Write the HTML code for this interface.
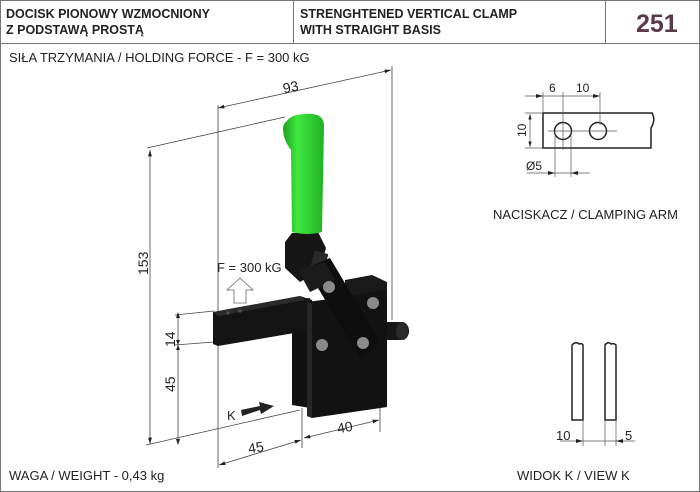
<!DOCTYPE html>
<html><head><meta charset="utf-8"><style>
html,body{margin:0;padding:0;background:#fff}
svg{display:block}
text{font-family:"Liberation Sans",Arial,sans-serif}
</style></head><body>
<svg width="700" height="492" viewBox="0 0 700 492" xmlns="http://www.w3.org/2000/svg">
<defs>
<linearGradient id="gr" x1="0" x2="1" y1="0" y2="0"><stop offset="0" stop-color="#1fa01f"/><stop offset="0.35" stop-color="#3fe83f"/><stop offset="1" stop-color="#22b022"/></linearGradient>
<marker id="a" viewBox="0 0 10 6" refX="10" refY="3" markerWidth="8" markerHeight="5" orient="auto-start-reverse"><path d="M0,0L10,3L0,6z" fill="#222"/></marker>
</defs>
<rect x="0.5" y="0.5" width="699" height="491" fill="#fff" stroke="#777"/>
<line x1="0" y1="43.5" x2="700" y2="43.5" stroke="#777"/>
<line x1="293.5" y1="0" x2="293.5" y2="43" stroke="#777"/>
<line x1="605.5" y1="0" x2="605.5" y2="43" stroke="#777"/>
<g font-weight="bold" font-size="12.5" fill="#222">
<text x="6" y="18">DOCISK PIONOWY WZMOCNIONY</text>
<text x="6" y="34">Z PODSTAWĄ PROSTĄ</text>
<text x="300" y="18">STRENGHTENED VERTICAL CLAMP</text>
<text x="300" y="34">WITH STRAIGHT BASIS</text>
</g>
<text x="636" y="32" font-size="25" font-weight="bold" fill="#5a3a48">251</text>
<g font-size="13" fill="#222">
<text x="9" y="62">SIŁA TRZYMANIA / HOLDING FORCE - F = 300 kG</text>
<text x="9" y="480">WAGA / WEIGHT - 0,43 kg</text>
<text x="517" y="480">WIDOK K / VIEW K</text>
<text x="493" y="219">NACISKACZ / CLAMPING ARM</text>
</g>
<g stroke="#444" stroke-width="0.8" fill="none">
<line x1="218" y1="105" x2="218" y2="468"/>
<line x1="392" y1="66" x2="392" y2="320"/>
<line x1="218" y1="108" x2="391" y2="70" marker-start="url(#a)" marker-end="url(#a)"/>
<line x1="147" y1="148" x2="285" y2="117"/>
<line x1="150" y1="150" x2="150" y2="444" marker-start="url(#a)" marker-end="url(#a)"/>
<line x1="146" y1="445" x2="300" y2="410"/>
<line x1="178" y1="313" x2="178" y2="444" />
<line x1="175" y1="315" x2="214" y2="311"/>
<line x1="175" y1="345" x2="214" y2="342"/>
<line x1="302" y1="408" x2="302" y2="448"/>
<line x1="380" y1="405" x2="380" y2="432"/>
<line x1="219" y1="465" x2="301" y2="440" marker-start="url(#a)" marker-end="url(#a)"/>
<line x1="304" y1="438" x2="379" y2="420" marker-start="url(#a)" marker-end="url(#a)"/>
</g>
<g fill="#222">
<path d="M176,318l2,-6l2,6z M176,340l2,5l2,-5z M176,350l2,-5l2,5z M176,439l2,6l2,-6z"/>
</g>
<g font-size="14" fill="#222">
<text x="283" y="92" transform="rotate(-12 290 88)">93</text>
<text x="0" y="0" transform="translate(148,275) rotate(-90)">153</text>
<text x="0" y="0" transform="translate(175,347) rotate(-90)">14</text>
<text x="0" y="0" transform="translate(175,392) rotate(-90)">45</text>
<text x="248" y="452" transform="rotate(-10 258 447)">45</text>
<text x="337" y="432" transform="rotate(-10 345 427)">40</text>
<text x="217" y="272" font-size="13">F = 300 kG</text>
<text x="227" y="420" font-size="13">K</text>
</g>
<path d="M234,303L234,290L227,290L240,278L253,290L246,290L246,303z" fill="#fff" stroke="#666" stroke-width="0.8"/>
<path d="M241,410L260,406L259,402L274,406L261,414L260,410L242,416z" fill="#222"/>
<g>
<path d="M380,322L402,322A7,9 0 0 1 402,340L380,340z" fill="#161616"/>
<ellipse cx="402" cy="331" rx="6" ry="9" fill="#2a2a2a"/>
<path d="M292,300L310,298L310,408L292,405z" fill="#111"/>
<path d="M213,312L300,296L312,300L312,330L218,346L213,344z" fill="#141414"/>
<path d="M213,312L300,296L305,300L218,316z" fill="#2b2b2b"/>
<circle cx="228" cy="313" r="1.6" fill="#555"/><circle cx="240" cy="311" r="1.6" fill="#555"/>
<path d="M345,280L372,275L387,282L387,330L345,330z" fill="#1a1a1a"/>
<path d="M307,302L345,297L387,290L387,407L312,418L307,416z" fill="#121212"/>
<path d="M307,302L312,304L312,418L307,416z" fill="#262626"/>
<path d="M285,242L292,233L318,232L326,248L320,270L300,282L285,268z" fill="#161616"/>
<rect x="312" y="252" width="14" height="20" fill="#2a2a2a" transform="rotate(15 319 262)"/>
<path d="M306,268L330,258L380,342L360,358z" fill="#0e0e0e"/>
<path d="M298,270L325,262L335,280L310,292z" fill="#1b1b1b"/>
<path d="M287,121Q292,113 312,114Q324,115 324,126L322,232Q308,236 292,232L291,150Q283,140 283,128Q283,124 287,121z" fill="url(#gr)"/>
<g fill="#8a8a8a"><circle cx="329" cy="287" r="6"/><circle cx="373" cy="303" r="6"/><circle cx="322" cy="345" r="6"/><circle cx="363" cy="343" r="6"/></g>
</g>
<g stroke="#222" fill="none">
<path d="M543,113L652,113Q656,120 651,128L651,148L543,148z" stroke-width="1.5"/>
<circle cx="563" cy="131" r="8.5" stroke-width="1.5"/>
<circle cx="598" cy="131" r="8.5" stroke-width="1.5"/>
<g stroke-width="0.7" stroke="#555">
<line x1="543" y1="92" x2="543" y2="113"/>
<line x1="563" y1="92" x2="563" y2="150"/>
<line x1="600" y1="92" x2="600" y2="125"/>
<line x1="548" y1="131" x2="617" y2="131"/>
<line x1="525" y1="96" x2="600" y2="96"/>
<line x1="525" y1="113" x2="543" y2="113"/>
<line x1="525" y1="148" x2="543" y2="148"/>
<line x1="530" y1="114" x2="530" y2="147" marker-start="url(#a)" marker-end="url(#a)"/>
<line x1="555" y1="131" x2="555" y2="177"/>
<line x1="571" y1="131" x2="571" y2="177"/>
<line x1="527" y1="173" x2="590" y2="173"/>
</g>
</g>
<path d="M536,94l7,2l-7,2z M593,94l7,2l-7,2z M548,171l7,2l-7,2z M578,171l-7,2l7,2z" fill="#222"/>
<g font-size="12" fill="#222">
<text x="549" y="92">6</text><text x="576" y="92">10</text>
<text x="0" y="0" transform="translate(526,137) rotate(-90)">10</text>
<text x="526" y="170">Ø5</text>
</g>
<g stroke="#222" stroke-width="1.5" fill="none">
<path d="M572,420L572,345Q576,341 579,344Q582,343 583,345L583,420z"/>
<path d="M605,420L605,345Q608,341 611,344Q614,343 616,345L616,420z"/>
</g>
<g stroke="#555" stroke-width="0.7">
<line x1="583" y1="420" x2="583" y2="446"/><line x1="605" y1="420" x2="605" y2="446"/><line x1="616" y1="420" x2="616" y2="446"/>
<line x1="560" y1="441" x2="635" y2="441"/>
</g>
<path d="M576,439l7,2l-7,2z M623,439l-7,2l7,2z" fill="#222"/>
<g font-size="13" fill="#222"><text x="556" y="440">10</text><text x="625" y="440">5</text></g>
</svg>
</body></html>
